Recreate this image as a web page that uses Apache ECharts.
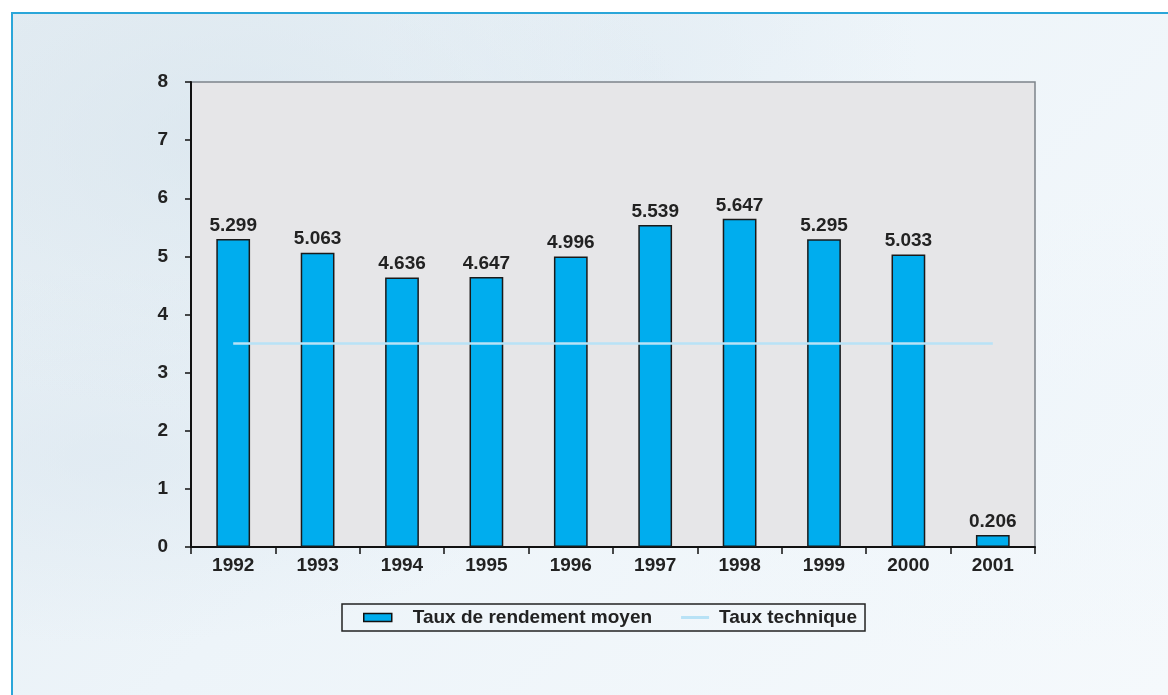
<!DOCTYPE html>
<html>
<head>
<meta charset="utf-8">
<script src="https://cdn.jsdelivr.net/npm/echarts@6/dist/echarts.min.js"></script>
<style>
  html, body { margin: 0; padding: 0; background: #fff; }
  #frame {
    position: absolute; left: 11px; top: 12px; width: 1157px; height: 683px;
    border-left: 2px solid #2aa6d9; border-top: 2px solid #2aa6d9;
    box-sizing: border-box;
    background:
      radial-gradient(ellipse at 18% 18%, rgba(214,227,236,0.6), rgba(214,227,236,0) 35%),
      radial-gradient(ellipse at 8% 65%, rgba(218,230,239,0.55), rgba(218,230,239,0) 30%),
      radial-gradient(ellipse at 55% 8%, rgba(222,233,241,0.5), rgba(222,233,241,0) 30%),
      radial-gradient(ellipse at 85% 60%, rgba(238,245,250,0.6), rgba(238,245,250,0) 40%),
      linear-gradient(135deg, #e4edf3 0%, #edf4f9 45%, #f5f9fc 100%);
  }
  #chart { position: absolute; left: 0; top: 0; width: 1168px; height: 695px; }
</style>
</head>
<body>
<div id="frame"></div>
<div id="chart"></div>
<script>
// données
const years = ["1992", "1993", "1994", "1995", "1996", "1997", "1998", "1999", "2000", "2001"];
const rendement = [5.299, 5.063, 4.636, 4.647, 4.996, 5.539, 5.647, 5.295, 5.033, 0.206];
const tauxTechnique = [3.5, 3.5, 3.5, 3.5, 3.5, 3.5, 3.5, 3.5, 3.5, 3.5];
const yTicks = { min: 0, max: 8, interval: 1 };

const font = "'Liberation Sans', Arial, sans-serif";
const txt = { fontFamily: font, fontWeight: "bold", fontSize: 19, color: "#222" };
const lineColor = "#b8e2f6";
const chart = echarts.init(document.getElementById("chart"));

chart.setOption({
  animation: false,
  grid: {
    left: 191,
    right: 133,
    top: 82,
    bottom: 148,
    show: true,
    backgroundColor: "#e6e6e8",
    borderColor: "#7d848a",
    borderWidth: 1.5,
  },
  legend: {
    left: 342,
    top: 604,
    padding: [4, 8, 4, 21],
    itemWidth: 28,
    itemHeight: 8,
    itemGap: 29,
    borderColor: "#222",
    borderWidth: 1.5,
    formatter: (name) => (name === "Taux technique" ? "{b|" + name + "}" : "{a|" + name + "}"),
    textStyle: {
      ...txt,
      rich: {
        a: { ...txt, padding: [0, 0, 0, 16] },
        b: { ...txt, padding: [0, 0, 0, 5] },
      },
    },
    data: [
      {
        name: "Taux de rendement moyen",
        icon: "rect",
        itemStyle: { color: "#00adee", borderColor: "#111", borderWidth: 1.5 },
      },
      {
        name: "Taux technique",
        // trait fin centré dans la case de 28x8
        icon: "path://M0,0 L28,0 M0,8 L28,8 M0,2.6 L28,2.6 L28,5.4 L0,5.4 Z",
        itemStyle: { color: lineColor, borderWidth: 0 },
      },
    ],
  },
  xAxis: {
    type: "category",
    data: years,
    axisLine: { lineStyle: { color: "#111", width: 2 } },
    axisTick: { show: true, length: 7, lineStyle: { color: "#111", width: 1.5 } },
    axisLabel: { ...txt, margin: 9 },
  },
  yAxis: {
    type: "value",
    min: yTicks.min,
    max: yTicks.max,
    interval: yTicks.interval,
    splitLine: { show: false },
    axisLine: { show: true, lineStyle: { color: "#111", width: 2 } },
    axisTick: { show: true, length: 6, lineStyle: { color: "#111", width: 1.5 } },
    axisLabel: { ...txt, margin: 23 },
  },
  series: [
    {
      name: "Taux de rendement moyen",
      type: "bar",
      data: rendement,
      barWidth: "40%",
      itemStyle: { color: "#00adee", borderColor: "#1a1a1a", borderWidth: 1.5 },
      label: {
        show: true,
        position: "top",
        distance: 4,
        ...txt,
        formatter: (p) => p.value.toFixed(3),
      },
    },
    {
      name: "Taux technique",
      type: "line",
      data: tauxTechnique,
      symbol: "none",
      showSymbol: false,
      itemStyle: { color: lineColor },
      lineStyle: { color: lineColor, width: 2.5 },
      z: 3,
    },
  ],
});
</script>
</body>
</html>
